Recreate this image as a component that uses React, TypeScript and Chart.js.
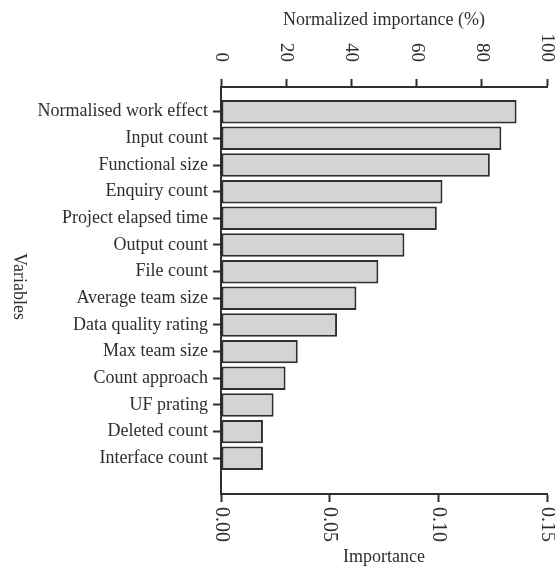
import React, { useEffect, useRef } from "react";
import { Chart, registerables } from "chart.js";

Chart.register(...registerables);

const categories = [
  "Normalised work effect",
  "Input count",
  "Functional size",
  "Enquiry count",
  "Project elapsed time",
  "Output count",
  "File count",
  "Average team size",
  "Data quality rating",
  "Max team size",
  "Count approach",
  "UF prating",
  "Deleted count",
  "Interface count",
];
const importance = [
  0.136, 0.129, 0.1237, 0.1019, 0.0993, 0.0844, 0.0724, 0.0623, 0.0534, 0.0353,
  0.0297, 0.0242, 0.0193, 0.0193,
];
const bottomTicks = [0, 0.05, 0.1, 0.15];
const topTicks = [0, 20, 40, 60, 80, 100];

const bottomTitle = "Importance";
const topTitle = "Normalized importance (%)";
const yTitle = "Variables";

const FONT = "'Liberation Serif', 'Times New Roman', serif";
const INK = "#2e2e2e";
const BAR_FILL = "#d4d4d6";
const Y_MIN = -0.926;
const Y_MAX = 14.34;

export default function App() {
  const ref = useRef<HTMLCanvasElement>(null);

  useEffect(() => {
    if (!ref.current) return;

    const rotatedText = {
      id: "rotatedText",
      afterDraw(chart: any) {
        const ctx = chart.ctx;
        ctx.save();
        ctx.fillStyle = INK;
        ctx.textBaseline = "middle";
        ctx.font = `20px ${FONT}`;
        const xs = chart.scales.x;
        xs.ticks.forEach((t: any) => {
          const px = xs.getPixelForValue(t.value);
          ctx.save();
          ctx.translate(px, xs.top + 13);
          ctx.rotate(Math.PI / 2);
          ctx.textAlign = "left";
          ctx.fillText(Number(t.value).toFixed(2), 0, 0);
          ctx.restore();
        });
        ctx.font = `19px ${FONT}`;
        const xt = chart.scales.xTop;
        xt.ticks.forEach((t: any) => {
          const px = xt.getPixelForValue(t.value);
          ctx.save();
          ctx.translate(px, xt.bottom - 25);
          ctx.rotate(Math.PI / 2);
          ctx.textAlign = "right";
          ctx.fillText(String(t.value), 0, 0);
          ctx.restore();
        });
        ctx.font = `18px ${FONT}`;
        ctx.save();
        ctx.translate(19, (chart.chartArea.top + chart.chartArea.bottom) / 2 - 4);
        ctx.rotate(Math.PI / 2);
        ctx.textAlign = "center";
        ctx.fillText(yTitle, 0, 0);
        ctx.restore();
        ctx.restore();
      },
    };

    const gridOpts = {
      offset: false,
      drawOnChartArea: false,
      drawTicks: true,
      tickLength: 8,
      tickWidth: 2,
      tickColor: INK,
    };
    const borderOpts = { display: true, color: INK, width: 2 };

    const chart = new Chart(ref.current, {
      type: "bar",
      data: {
        datasets: [
          {
            data: importance.map((v, i) => ({ x: v, y: i })),
            backgroundColor: BAR_FILL,
            borderColor: INK,
            borderWidth: 2,
            borderSkipped: false,
            barPercentage: 0.88,
            categoryPercentage: 1,
          } as any,
        ],
      },
      options: {
        indexAxis: "y",
        responsive: true,
        maintainAspectRatio: false,
        animation: false,
        layout: { padding: { left: 0, right: 8, top: 0, bottom: 0 } },
        plugins: {
          legend: { display: false },
          tooltip: { enabled: false },
        },
        scales: {
          y: {
            type: "linear",
            position: "left",
            reverse: true,
            offset: false,
            min: Y_MIN,
            max: Y_MAX,
            afterBuildTicks: (s: any) => {
              s.ticks = categories.map((_, i) => ({ value: i }));
            },
            afterFit: (s: any) => {
              s.width = 221;
            },
            ticks: {
              autoSkip: false,
              callback: (v: any) => categories[v] ?? "",
              font: { family: FONT, size: 18 },
              color: INK,
              padding: 5,
            },
            grid: gridOpts,
            border: borderOpts,
          },
          x: {
            type: "linear",
            position: "bottom",
            offset: false,
            min: 0,
            max: 0.15,
            afterBuildTicks: (s: any) => {
              s.ticks = bottomTicks.map((v) => ({ value: v }));
            },
            afterFit: (s: any) => {
              s.height = 79;
              s.paddingLeft = 0;
              s.paddingRight = 0;
            },
            ticks: { display: false },
            grid: gridOpts,
            border: borderOpts,
            title: {
              display: true,
              text: bottomTitle,
              color: INK,
              font: { family: FONT, size: 18 },
              padding: { top: 0, bottom: 5 },
            },
          },
          xTop: {
            type: "linear",
            axis: "x",
            position: "top",
            offset: false,
            min: 0,
            max: 100,
            afterBuildTicks: (s: any) => {
              s.ticks = topTicks.map((v) => ({ value: v }));
            },
            afterFit: (s: any) => {
              s.height = 87;
              s.paddingLeft = 0;
              s.paddingRight = 0;
            },
            ticks: { display: false },
            grid: gridOpts,
            border: borderOpts,
            title: {
              display: true,
              text: topTitle,
              color: INK,
              font: { family: FONT, size: 18 },
              padding: { top: 9, bottom: 0 },
            },
          },
        } as any,
      },
      plugins: [rotatedText],
    });

    return () => chart.destroy();
  }, []);

  return (
    <div style={{ position: "absolute", left: 0, top: 0, width: 555, height: 573 }}>
      <canvas ref={ref} style={{ display: "block" }} />
    </div>
  );
}
